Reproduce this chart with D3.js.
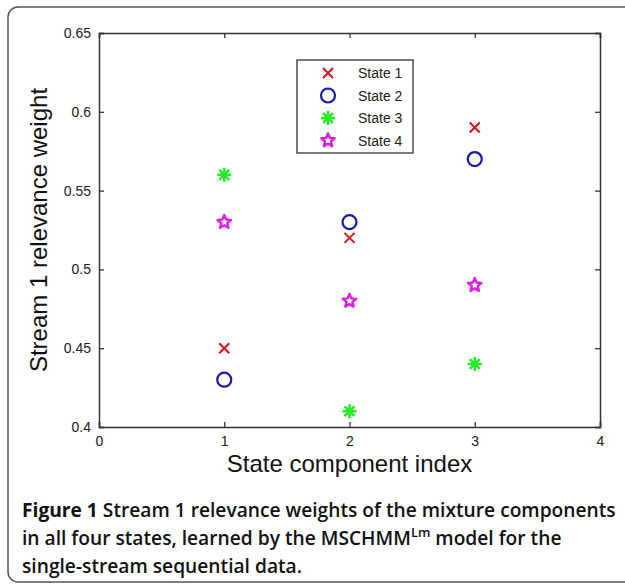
<!DOCTYPE html>
<html>
<head>
<meta charset="utf-8">
<script src="https://cdn.jsdelivr.net/npm/d3@7"></script>
<style>
  body { margin: 0; background: #fff; }
  .tick text { font-family: "Liberation Sans", Arial, sans-serif; font-size: 14px; fill: #222; }
  .axisText { font-family: "Liberation Sans", Arial, sans-serif; font-size: 24px; fill: #111; }
  .caption { font-family: "Open Sans", "Noto Sans", sans-serif; font-size: 19.2px; fill: #111; }
</style>
</head>
<body>
<div id="scatter"></div>
<script>
// chart values
var components = [1, 2, 3];
var states = ["State 1", "State 2", "State 3", "State 4"];
var state1 = [0.45, 0.52, 0.59];
var state2 = [0.43, 0.53, 0.57];
var state3 = [0.56, 0.41, 0.44];
var state4 = [0.53, 0.48, 0.49];
var xTicks = [0, 1, 2, 3, 4];
var yTicks = [0.4, 0.45, 0.5, 0.55, 0.6, 0.65];

var seriesValues = [state1, state2, state3, state4];
var markerTypes = ["cross", "circle", "asterisk", "star"];
var colors = ["#d01818", "#1818b0", "#22ee22", "#e020e0"];

var svgWidth = 625;
var svgHeight = 585;

var chartMargin = {top: 33, right: 25, left: 99, bottom: 158};
var chartWidth = svgWidth - chartMargin.left - chartMargin.right;
var chartHeight = svgHeight - chartMargin.top - chartMargin.bottom;

var svg = d3.select("#scatter")
    .append("svg")
    .attr("width", svgWidth)
    .attr("height", svgHeight);

// figure frame
svg.append("rect")
    .attr("x", 8).attr("y", 7)
    .attr("width", 640).attr("height", 575)
    .attr("rx", 10)
    .attr("fill", "none")
    .attr("stroke", "#555")
    .attr("stroke-width", 1.5);

var chartGroup = svg.append("g")
    .attr("transform", `translate(${chartMargin.left}, ${chartMargin.top})`);

var xScale = d3.scaleLinear().domain([0, 4]).range([0, chartWidth]);
var yScale = d3.scaleLinear().domain([0.4, 0.65]).range([chartHeight, 0]);

var fmt = d => d3.format("")(d);

// axes, ticks inward like matlab
var bottomAxis = d3.axisBottom(xScale).tickValues(xTicks).tickSize(-5).tickPadding(9).tickFormat(d3.format("d"));
var leftAxis = d3.axisLeft(yScale).tickValues(yTicks).tickSize(-5).tickPadding(8).tickFormat(fmt);
var topAxis = d3.axisTop(xScale).tickValues(xTicks).tickSize(-5).tickFormat("");
var rightAxis = d3.axisRight(yScale).tickValues(yTicks).tickSize(-5).tickFormat("");

chartGroup.append("g").attr("transform", `translate(0, ${chartHeight})`).call(bottomAxis);
chartGroup.append("g").call(leftAxis);
chartGroup.append("g").call(topAxis);
chartGroup.append("g").attr("transform", `translate(${chartWidth}, 0)`).call(rightAxis);

chartGroup.selectAll(".domain").attr("stroke", "#333").attr("stroke-width", 1.5);
chartGroup.selectAll(".tick line").attr("stroke", "#333").attr("stroke-width", 1.3);

// marker shapes
function markerPath(type, s) {
    if (type === "cross") {
        return `M${-s},${-s}L${s},${s}M${-s},${s}L${s},${-s}`;
    }
    if (type === "asterisk") {
        var p = "";
        for (var i = 0; i < 4; i++) {
            var a = i * Math.PI / 4;
            p += `M${-s * Math.cos(a)},${-s * Math.sin(a)}L${s * Math.cos(a)},${s * Math.sin(a)}`;
        }
        return p;
    }
    if (type === "star") {
        var pts = [];
        for (var j = 0; j < 10; j++) {
            var r = j % 2 === 0 ? s : s * 0.45;
            var ang = -Math.PI / 2 + j * Math.PI / 5;
            pts.push([r * Math.cos(ang), r * Math.sin(ang)]);
        }
        return "M" + pts.map(q => q.join(",")).join("L") + "Z";
    }
    return "";
}

function drawMarker(g, type, color) {
    if (type === "circle") {
        g.append("circle").attr("r", 7).attr("fill", "none")
            .attr("stroke", color).attr("stroke-width", 2.2);
    } else {
        var size = type === "cross" ? 5 : type === "asterisk" ? 7 : 7;
        g.append("path").attr("d", markerPath(type, size))
            .attr("fill", "none").attr("stroke", color)
            .attr("stroke-width", type === "cross" ? 2 : 2.5)
            .attr("stroke-linejoin", "round");
    }
}

// points
seriesValues.forEach(function(vals, k) {
    vals.forEach(function(v, i) {
        var g = chartGroup.append("g")
            .attr("transform", `translate(${xScale(components[i])}, ${yScale(v)})`);
        drawMarker(g, markerTypes[k], colors[k]);
    });
});

// legend
var legend = chartGroup.append("g").attr("transform", "translate(198, 27)");
legend.append("rect")
    .attr("width", 116).attr("height", 93)
    .attr("fill", "#fff").attr("stroke", "#333").attr("stroke-width", 1.3);
states.forEach(function(name, k) {
    var row = legend.append("g").attr("transform", `translate(31, ${13 + k * 22.5})`);
    drawMarker(row, markerTypes[k], colors[k]);
    row.append("text")
        .attr("x", 30).attr("y", 5)
        .style("font-family", "Liberation Sans, Arial, sans-serif")
        .style("font-size", "14px")
        .attr("fill", "#222")
        .text(name);
});

// axis labels
chartGroup.append("text")
    .attr("class", "axisText")
    .attr("text-anchor", "middle")
    .attr("transform", `translate(-52, ${chartHeight / 2}) rotate(-90)`)
    .text("Stream 1 relevance weight");

chartGroup.append("text")
    .attr("class", "axisText")
    .attr("text-anchor", "middle")
    .attr("x", chartWidth / 2)
    .attr("y", chartHeight + 45)
    .text("State component index");

// caption
var cap = svg.append("text").attr("class", "caption");
var l1 = cap.append("tspan").attr("x", 22).attr("y", 517);
l1.append("tspan").attr("font-weight", 700).text("Figure 1 ");
l1.append("tspan").attr("font-weight", 600).text("Stream 1 relevance weights of the mixture components");
var l2 = cap.append("tspan").attr("x", 22).attr("y", 545).attr("font-weight", 600);
l2.append("tspan").text("in all four states, learned by the MSCHMM");
l2.append("tspan").attr("dy", -8).style("font-size", "13px").text("Lm");
l2.append("tspan").attr("dy", 8).text(" model for the");
cap.append("tspan").attr("x", 22).attr("y", 573).attr("font-weight", 600)
    .text("single-stream sequential data.");
</script>
</body>
</html>
